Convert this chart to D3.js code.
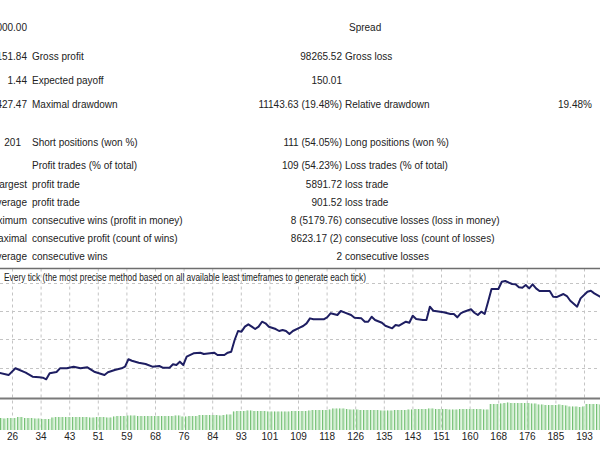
<!DOCTYPE html>
<html><head><meta charset="utf-8">
<script src="https://cdn.jsdelivr.net/npm/d3@7"></script>
<style>
html,body{margin:0;padding:0;background:#fff;overflow:hidden}
svg{display:block}
text{font-family:"Liberation Sans",Arial,sans-serif;font-size:10px;fill:#222}
</style>
</head><body><svg id="c" width="600" height="450"></svg>
<script>
// ---------- data ----------
const tickLabels = [26,34,43,51,59,68,76,84,93,101,109,118,126,135,143,151,160,168,176,185,193];

const tradeNo = [22,25,27,30,32,34,35,36,37,39,40,42,44,46,48,50,53,54,56,58,59,60,61,63,65,67,69,70,72,73,74,75,76,77,79,81,82,85,86,88,89,90,91,92,93,94,95,96,97,98,99,100,101,103,104,105,106,107,108,110,111,112,113,114,117,118,119,121,122,123,125,126,128,129,130,131,132,134,135,137,138,139,141,142,143,144,146,147,148,149,151,152,154,155,156,157,158,160,161,162,163,164,165,166,168,169,170,172,173,174,175,176,177,178,179,180,183,184,185,187,188,189,191,192,194,195,196,198,199];
const balance = [59150,58700,59900,59120,58420,58310,58240,57960,59010,59240,59890,59890,60180,59890,60070,59300,58720,59190,59600,59890,60180,61480,61230,60880,60650,60180,60300,60000,60000,60600,60480,61060,60470,61940,62530,62640,62410,62640,62240,62240,62640,62820,64880,66460,66340,67220,67640,67220,66810,67220,68100,67810,67220,66810,66460,66640,66460,65930,66460,67040,67340,67810,68690,68520,68520,68870,69570,69280,69980,69750,69280,68800,68690,68100,68100,68980,68400,67920,67390,66930,67520,67390,68100,67920,69150,68570,68400,68400,70740,70030,69860,69750,69450,69450,68870,69570,69860,70280,69680,69280,69860,69450,71620,73850,73850,75140,75260,74730,74680,74150,74080,74560,73970,74680,73970,73500,73500,72500,72430,72970,72620,71790,70740,72210,73380,73550,73090,72390,71900];

const lotFirstTrade = 22;
const lots = [
 1.2,1.2,1.15,1.2,1.2,1.2,
 1.3,1.3,
 1.2,1.2,1.2,1.15,1.15,
 1.1,1.1,1.1,
 1.25,1.3,1.3,1.3,1.3,1.3,1.3,1.3,1.3,1.3,1.3,1.25,1.25,1.3,1.3,1.3,1.25,1.25,
 1.35,1.4,1.4,1.4,1.45,1.45,1.45,1.4,1.4,1.4,1.4,1.4,1.4,1.4,1.4,1.4,1.4,1.4,1.45,1.45,
 1.35,1.35,1.4,1.4,1.4,
 1.5,1.5,1.5,1.5,1.5,1.5,1.45,1.5,1.55,1.55,
 1.85,1.9,1.9,1.9,1.95,1.95,1.9,1.9,1.9,1.9,1.85,1.85,1.85,1.85,1.85,1.85,1.85,1.9,1.9,1.9,1.9,1.9,1.95,
 2.0,2.0,2.0,2.0,2.0,2.05,
 2.15,2.15,2.15,2.15,2.1,
 2.05,2.05,2.05,2.0,2.0,2.0,2.0,2.0,2.0,1.95,1.95,1.95,1.95,2.0,2.0,
 2.0,2.0,2.05,2.05,2.1,2.1,2.1,2.1,2.15,2.15,2.1,2.1,2.1,2.1,2.05,2.05,2.05,2.1,2.1,2.1,2.1,2.1,2.1,2.1,2.05,2.05,
 2.6,2.6,2.6,2.65,
 2.7,2.75,2.7,2.7,2.7,2.7,2.7,2.7,2.65,2.65,
 2.55,2.55,2.5,2.5,2.5,2.5,2.55,2.5,2.45,
 2.35,2.35,2.35,2.3,2.35,
 2.6,2.6,2.6,2.6,2.55
];

const gridValues = [60000,65000,70000,75000];

const chartTitle = "Every tick (the most precise method based on all available least timeframes to generate each tick)";

// report table columns
const col1 = ["000.00","151.84","1.44","427.47","201","","Largest","Average","Maximum","Maximal","Average"];
const col2 = ["","Gross profit","Expected payoff","Maximal drawdown","Short positions (won %)","Profit trades (% of total)","profit trade","profit trade","consecutive wins (profit in money)","consecutive profit (count of wins)","consecutive wins"];
const col3 = ["","98265.52","150.01","11143.63 (19.48%)","111 (54.05%)","109 (54.23%)","5891.72","901.52","8 (5179.76)","8623.17 (2)","2"];
const col4 = ["Spread","Gross loss","","Relative drawdown","Long positions (won %)","Loss trades (% of total)","loss trade","loss trade","consecutive losses (loss in money)","consecutive loss (count of losses)","consecutive losses"];
const col5 = ["","","","19.48%","","","","","","",""];

// ---------- layout ----------
const W = 600, H = 450;
const rowY = [27,56,80,104,142,165,184,202,220,238,256];
const plotTop = 268.5, plotBottom = 398.5, volBottom = 430;

const svg = d3.select("#c");

// table
const rows = svg.append("g").selectAll("g").data(col1.map((d,i)=>i)).join("g")
  .attr("transform", i => `translate(0,${rowY[i]})`);
rows.append("text").attr("x", i => i===4 ? 21 : 27).attr("text-anchor","end").attr("dy","0.35em").text(i=>col1[i]);
rows.append("text").attr("x", 32).attr("dy","0.35em").text(i=>col2[i]);
rows.append("text").attr("x", 342).attr("text-anchor","end").attr("dy","0.35em").text(i=>col3[i]);
rows.append("text").attr("x", i => i===0 ? 349 : 345).attr("dy","0.35em").text(i=>col4[i]);
rows.append("text").attr("x", 558).attr("dy","0.35em").text(i=>col5[i]);

// scales
const x = d3.scaleLinear().domain([26,193]).range([12,584]);
const xGrid = d3.scalePoint().domain(tickLabels).range([12,584]);
const y = d3.scaleLinear().domain([60000,75000]).range([367.7,282.5]);
const yLot = d3.scaleLinear().domain([0,3]).range([volBottom, volBottom-30]);

// vertical grid
svg.append("g").selectAll("line").data(tickLabels).join("line")
  .attr("x1", d=>xGrid(d)+0.5).attr("x2", d=>xGrid(d)+0.5)
  .attr("y1", plotTop).attr("y2", volBottom)
  .attr("stroke","#c4c4c4").attr("stroke-dasharray","3,3");

// horizontal grid
svg.append("g").selectAll("line").data(gridValues).join("line")
  .attr("x1",0).attr("x2",W)
  .attr("y1", d=>Math.round(y(d))+0.5).attr("y2", d=>Math.round(y(d))+0.5)
  .attr("stroke","#c4c4c4").attr("stroke-dasharray","3,3");

// title
svg.append("text").attr("x",4).attr("y",277).attr("dy","0.35em")
  .attr("font-size",9.5).attr("textLength",362).attr("lengthAdjust","spacingAndGlyphs")
  .text(chartTitle);

// borders
svg.append("line").attr("x1",0).attr("x2",W).attr("y1",plotTop).attr("y2",plotTop)
  .attr("stroke","#6e6e6e").attr("stroke-width",1.5);
svg.append("line").attr("x1",0).attr("x2",W).attr("y1",plotBottom).attr("y2",plotBottom)
  .attr("stroke","#7a7a7a").attr("stroke-width",2);

// balance line
svg.append("clipPath").attr("id","clip").append("rect")
  .attr("x",0).attr("y",plotTop+1).attr("width",W).attr("height",plotBottom-plotTop-2);
const pts = tradeNo.map((t,i)=>({t, v: balance[i]}));
svg.append("path").datum(pts).attr("clip-path","url(#clip)")
  .attr("fill","none").attr("stroke","#1e1e62").attr("stroke-width",2)
  .attr("stroke-linejoin","round")
  .attr("d", d3.line().x(d=>x(d.t)).y(d=>y(d.v)));

// volume bars
const bars = lots.map((v,i)=>({t: lotFirstTrade + i, v}));
const bw = x(1) - x(0);
const bg = svg.append("g");
bg.selectAll("rect").data(bars).join("rect")
  .attr("x", d=>x(d.t)-bw/2).attr("width", bw-0.8)
  .attr("y", d=>yLot(d.v)).attr("height", d=>volBottom - yLot(d.v))
  .attr("fill","#cdeccd");
bg.selectAll("line").data(bars).join("line")
  .attr("x1", d=>x(d.t)-bw/2+0.5).attr("x2", d=>x(d.t)-bw/2+0.5)
  .attr("y1", d=>yLot(d.v)).attr("y2", volBottom)
  .attr("stroke","#74bf74").attr("stroke-width",1);

// x axis labels
const ax = svg.append("g").attr("transform",`translate(0,${volBottom})`)
  .call(d3.axisBottom(xGrid).tickSize(0).tickPadding(3));
ax.select(".domain").remove();
ax.selectAll("text").attr("font-family",'"Liberation Sans",Arial,sans-serif').attr("font-size",10).attr("fill","#222");
</script>
</body></html>
